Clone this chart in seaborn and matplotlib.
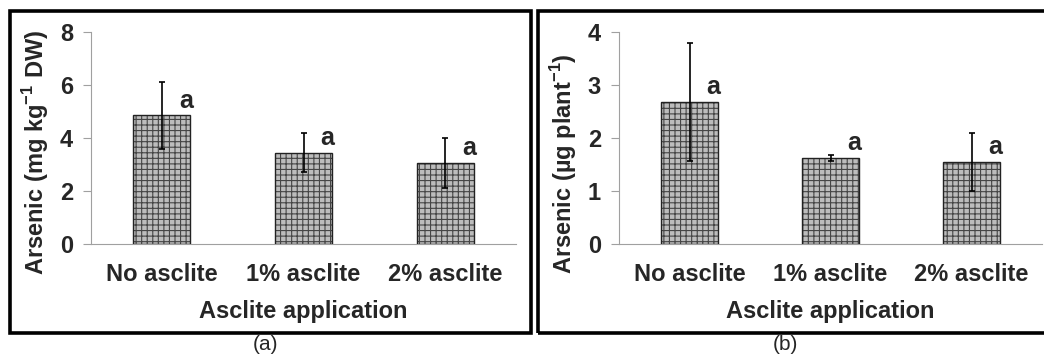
import matplotlib
matplotlib.use("Agg")
import matplotlib.pyplot as plt
from matplotlib.patches import Rectangle
import seaborn as sns
import pandas as pd

# Treatments and measured arsenic values
categories = ["No asclite", "1% asclite", "2% asclite"]
conc_mean = [4.85, 3.45, 3.05]        # mg kg-1 DW
conc_err = [1.25, 0.72, 0.95]
conc_letters = ["a", "a", "a"]
uptake_mean = [2.68, 1.62, 1.55]      # ug plant-1
uptake_err = [1.12, 0.05, 0.55]
uptake_letters = ["a", "a", "a"]

sns.set_theme(style="white")
plt.rcParams["font.family"] = ["Liberation Sans", "DejaVu Sans"]
plt.rcParams["mathtext.fontset"] = "custom"
plt.rcParams["mathtext.rm"] = "Liberation Sans:bold"
plt.rcParams["mathtext.bf"] = "Liberation Sans:bold"
plt.rcParams["hatch.linewidth"] = 0.8

FS = 17

fig = plt.figure(figsize=(10.44, 3.64), dpi=100)

# Outer frames around each panel
for (x0, x1) in [(9.5, 530.5), (537.5, 1046)]:
    fig.patches.append(Rectangle((x0 / 1044, 1 - 332.5 / 364), (x1 - x0) / 1044,
                                 (332.5 - 10.5) / 364, transform=fig.transFigure,
                                 fill=False, edgecolor="black", linewidth=2.6, zorder=0))


def panel(rect, means, errs, letters, ymax, yticks, ylabel, label_y, caption, cap_x):
    ax = fig.add_axes(rect)
    df = pd.DataFrame({"treatment": categories, "value": means})
    sns.barplot(data=df, x="treatment", y="value", ax=ax, color="#bcbcbc",
                width=0.4, linewidth=0, saturation=1)
    for p in list(ax.patches):
        p.set_hatch("+++")
        p.set_edgecolor("#454545")
        p.set_linewidth(0)
        # crisp black outline on top of the hatched fill
        ax.add_patch(Rectangle(p.get_xy(), p.get_width(), p.get_height(),
                               fill=False, edgecolor="#222222", linewidth=1.0, zorder=3))
    ax.errorbar(range(len(means)), means, yerr=errs, fmt="none", ecolor="black",
                elinewidth=1.2, capsize=2.5, capthick=1.2, zorder=4)
    for i, (m, e, t) in enumerate(zip(means, errs, letters)):
        ax.text(i + 0.12, m + ymax * 0.07, t, ha="left", va="center",
                fontsize=FS + 1, fontweight="bold")
    ax.set_xlim(-0.5, 2.5)
    ax.set_ylim(0, ymax)
    ax.set_yticks(yticks)
    ax.set_yticklabels([str(v) for v in yticks], fontsize=FS, fontweight="bold")
    ax.set_xticks([-0.5, 0.5, 1.5, 2.5], minor=False)
    ax.set_xticklabels([])
    ax.set_xticks([0, 1, 2], minor=True)
    ax.set_xticklabels(categories, minor=True, fontsize=FS, fontweight="bold")
    ax.tick_params(axis="x", which="minor", length=0, pad=14)
    ax.tick_params(axis="x", which="major", length=6, color="#a0a0a0", width=0.8, direction="out")
    ax.tick_params(axis="y", length=6, color="#a0a0a0", width=0.8, direction="out", pad=7, left=True)
    for s in ["top", "right"]:
        ax.spines[s].set_visible(False)
    for s in ["left", "bottom"]:
        ax.spines[s].set_color("#a0a0a0")
        ax.spines[s].set_linewidth(0.8)
    ax.set_xlabel("Asclite application", fontsize=FS, fontweight="bold", labelpad=10)
    ax.set_ylabel(ylabel, fontsize=FS, fontweight="bold", labelpad=6)
    ax.yaxis.label.set_y(label_y)
    ax.patch.set_alpha(0)
    fig.text(cap_x, 1 - 344 / 364, caption, ha="center", va="center", fontsize=15)
    return ax


panel([91 / 1044, 1 - 244 / 364, 425 / 1044, 212 / 364], conc_mean, conc_err,
      conc_letters, 8, [0, 2, 4, 6, 8], r"Arsenic (mg kg$^{-1}$ DW)", 0.43,
      "(a)", 265 / 1044)
panel([619 / 1044, 1 - 244 / 364, 423 / 1044, 212 / 364], uptake_mean, uptake_err,
      uptake_letters, 4, [0, 1, 2, 3, 4], r"Arsenic (µg plant$^{-1}$)", 0.38,
      "(b)", 785 / 1044)

fig.savefig("out.png", dpi=100, facecolor="white")
